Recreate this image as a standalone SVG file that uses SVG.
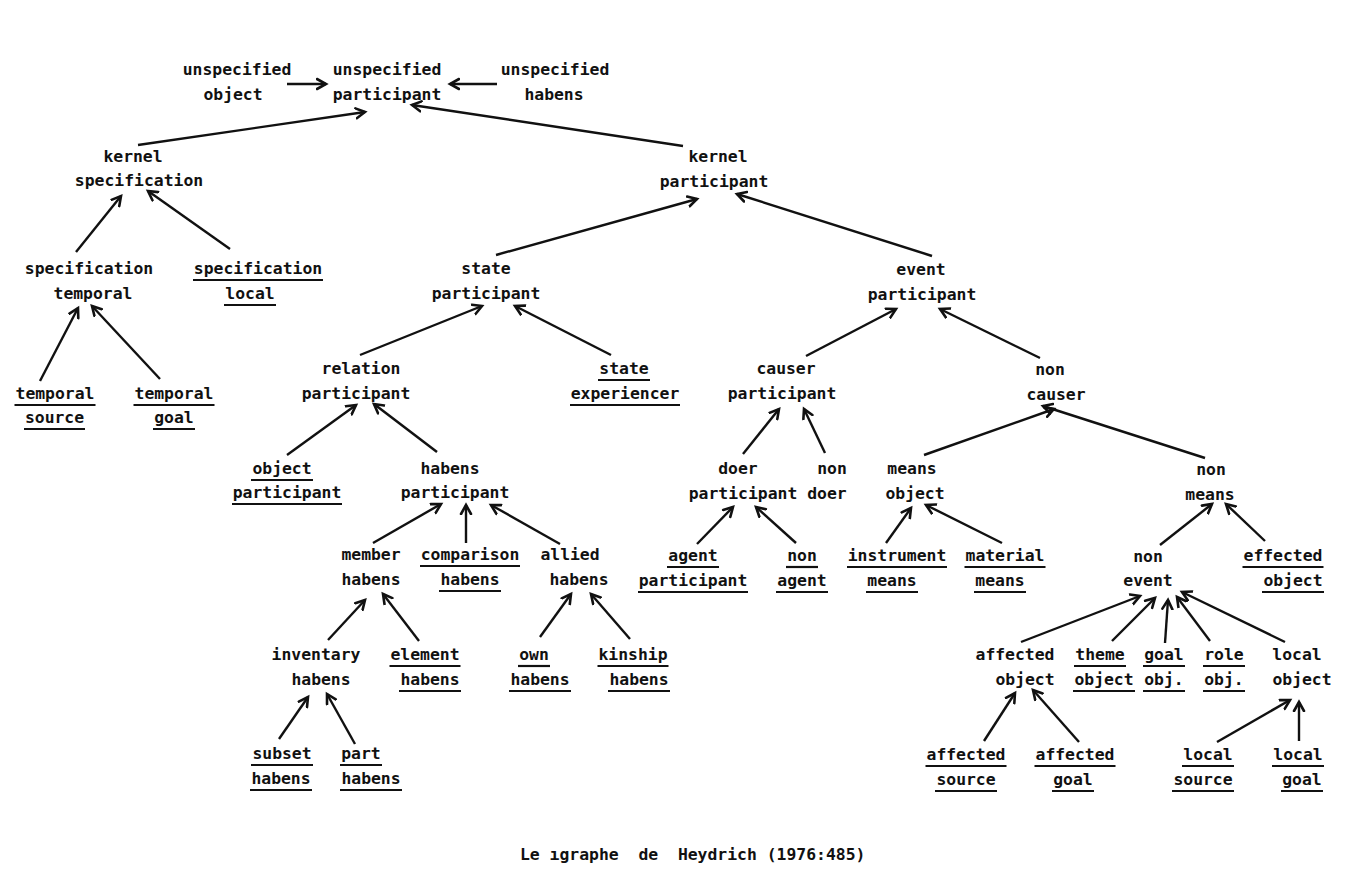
<svg xmlns="http://www.w3.org/2000/svg" width="1351" height="893" viewBox="0 0 1351 893">
<defs>
<marker id="a" markerUnits="userSpaceOnUse" markerWidth="14" markerHeight="14" refX="10" refY="6" orient="auto" viewBox="0 0 14 12">
<path d="M1,1 L10,6 L1,11" fill="none" stroke="#111" stroke-width="2.6" stroke-linecap="round" stroke-linejoin="miter"/>
</marker>
</defs>
<style>
text{font-family:"DejaVu Sans Mono","Liberation Mono",monospace;font-weight:bold;font-size:16.4px;fill:#111;text-anchor:middle}
.u{stroke:#111;stroke-width:2.2}
.e{stroke:#111;stroke-width:2.4;fill:none;marker-end:url(#a)}
</style>
<rect width="1351" height="893" fill="#fff"/>
<g id="connectors">
<line class="e" x1="287" y1="84" x2="326" y2="84"/>
<line class="e" x1="497" y1="84" x2="450" y2="84"/>
<line class="e" x1="138" y1="145" x2="365" y2="112"/>
<line class="e" x1="683" y1="146" x2="412" y2="105"/>
<line class="e" x1="76" y1="252" x2="121" y2="196"/>
<line class="e" x1="230" y1="249" x2="148" y2="191"/>
<line class="e" x1="40" y1="381" x2="78" y2="308"/>
<line class="e" x1="160" y1="379" x2="92" y2="306"/>
<line class="e" x1="496" y1="255" x2="697" y2="199"/>
<line class="e" x1="932" y1="256" x2="737" y2="194"/>
<line class="e" x1="360" y1="355" x2="482" y2="306"/>
<line class="e" x1="611" y1="355" x2="515" y2="306"/>
<line class="e" x1="806" y1="356" x2="896" y2="309"/>
<line class="e" x1="1040" y1="358" x2="940" y2="309"/>
<line class="e" x1="287" y1="455" x2="356" y2="405"/>
<line class="e" x1="437" y1="452" x2="374" y2="404"/>
<line class="e" x1="743" y1="454" x2="779" y2="409"/>
<line class="e" x1="825" y1="453" x2="804" y2="409"/>
<line class="e" x1="924" y1="455" x2="1054" y2="409"/>
<line class="e" x1="1205" y1="458" x2="1043" y2="406"/>
<line class="e" x1="373" y1="543" x2="441" y2="504"/>
<line class="e" x1="466" y1="543" x2="466" y2="505"/>
<line class="e" x1="560" y1="544" x2="491" y2="505"/>
<line class="e" x1="697" y1="544" x2="733" y2="507"/>
<line class="e" x1="796" y1="543" x2="756" y2="507"/>
<line class="e" x1="886" y1="543" x2="911" y2="508"/>
<line class="e" x1="1002" y1="543" x2="926" y2="505"/>
<line class="e" x1="1160" y1="545" x2="1212" y2="504"/>
<line class="e" x1="1265" y1="541" x2="1226" y2="504"/>
<line class="e" x1="328" y1="640" x2="365" y2="600"/>
<line class="e" x1="419" y1="641" x2="383" y2="594"/>
<line class="e" x1="540" y1="637" x2="571" y2="594"/>
<line class="e" x1="630" y1="639" x2="591" y2="594"/>
<line class="e" x1="279" y1="739" x2="308" y2="697"/>
<line class="e" x1="355" y1="744" x2="327" y2="694"/>
<line class="e" x1="1021" y1="642" x2="1140" y2="596"/>
<line class="e" x1="1112" y1="641" x2="1155" y2="598"/>
<line class="e" x1="1165" y1="643" x2="1168" y2="600"/>
<line class="e" x1="1210" y1="641" x2="1177" y2="597"/>
<line class="e" x1="1285" y1="642" x2="1182" y2="592"/>
<line class="e" x1="984" y1="741" x2="1015" y2="693"/>
<line class="e" x1="1079" y1="742" x2="1033" y2="690"/>
<line class="e" x1="1217" y1="742" x2="1290" y2="700"/>
<line class="e" x1="1299" y1="741" x2="1299" y2="702"/>
</g>
<g id="n1"><text x="237" y="75">unspecified</text><text x="233" y="100">object</text></g>
<g id="n2"><text x="387" y="75">unspecified</text><text x="387" y="100">participant</text></g>
<g id="n3"><text x="555" y="75">unspecified</text><text x="554" y="100">habens</text></g>
<g id="n4"><text x="133" y="162">kernel</text><text x="139" y="186">specification</text></g>
<g id="n5"><text x="718" y="162">kernel</text><text x="714" y="187">participant</text></g>
<g id="n6"><text x="89" y="274">specification</text><text x="93" y="299">temporal</text></g>
<g id="n7"><text x="258" y="274">specification</text><text x="250" y="299">local</text><line class="u" x1="193" y1="280" x2="323" y2="280"/><line class="u" x1="224" y1="305" x2="276" y2="305"/></g>
<g id="n8"><text x="55" y="399">temporal</text><text x="54.5" y="423">source</text><line class="u" x1="14.5" y1="405" x2="95.5" y2="405"/><line class="u" x1="24" y1="429" x2="85" y2="429"/></g>
<g id="n9"><text x="174" y="399">temporal</text><text x="174" y="423">goal</text><line class="u" x1="133.5" y1="405" x2="214.5" y2="405"/><line class="u" x1="153" y1="429" x2="195" y2="429"/></g>
<g id="n10"><text x="486" y="274">state</text><text x="486" y="299">participant</text></g>
<g id="n11"><text x="921" y="275">event</text><text x="922" y="300">participant</text></g>
<g id="n12"><text x="361" y="374">relation</text><text x="356" y="399">participant</text></g>
<g id="n13"><text x="624" y="374">state</text><text x="625" y="399">experiencer</text><line class="u" x1="598" y1="380" x2="650" y2="380"/><line class="u" x1="570" y1="405" x2="680" y2="405"/></g>
<g id="n14"><text x="786" y="374">causer</text><text x="782" y="399">participant</text></g>
<g id="n15"><text x="1050" y="375">non</text><text x="1056" y="400">causer</text></g>
<g id="n16"><text x="282" y="474">object</text><text x="287" y="498">participant</text><line class="u" x1="251" y1="480" x2="313" y2="480"/><line class="u" x1="232" y1="504" x2="342" y2="504"/></g>
<g id="n17"><text x="450" y="474">habens</text><text x="455" y="498">participant</text></g>
<g id="n18"><text x="738" y="474">doer</text><text x="743" y="499">participant</text></g>
<g id="n19"><text x="832" y="474">non</text><text x="827" y="499">doer</text></g>
<g id="n20"><text x="912" y="474">means</text><text x="915" y="499">object</text></g>
<g id="n21"><text x="1211" y="475">non</text><text x="1210" y="500">means</text></g>
<g id="n22"><text x="371" y="560">member</text><text x="371" y="585">habens</text></g>
<g id="n23"><text x="470" y="560">comparison</text><text x="470" y="585">habens</text><line class="u" x1="420" y1="566" x2="520" y2="566"/><line class="u" x1="439" y1="591" x2="501" y2="591"/></g>
<g id="n24"><text x="570" y="560">allied</text><text x="579" y="585">habens</text></g>
<g id="n25"><text x="693" y="561">agent</text><text x="693" y="586">participant</text><line class="u" x1="667" y1="567" x2="719" y2="567"/><line class="u" x1="638" y1="592" x2="748" y2="592"/></g>
<g id="n26"><text x="802" y="561">non</text><text x="802" y="586">agent</text><line class="u" x1="786" y1="567" x2="818" y2="567"/><line class="u" x1="776" y1="592" x2="828" y2="592"/></g>
<g id="n27"><text x="897" y="561">instrument</text><text x="892" y="586">means</text><line class="u" x1="847" y1="567" x2="947" y2="567"/><line class="u" x1="866" y1="592" x2="918" y2="592"/></g>
<g id="n28"><text x="1005" y="561">material</text><text x="1000" y="586">means</text><line class="u" x1="964.5" y1="567" x2="1045.5" y2="567"/><line class="u" x1="974" y1="592" x2="1026" y2="592"/></g>
<g id="n29"><text x="1148" y="562">non</text><text x="1148" y="586">event</text></g>
<g id="n30"><text x="1283" y="561">effected</text><text x="1293" y="586">object</text><line class="u" x1="1242.5" y1="567" x2="1323.5" y2="567"/><line class="u" x1="1262" y1="592" x2="1324" y2="592"/></g>
<g id="n31"><text x="316" y="660">inventary</text><text x="321" y="685">habens</text></g>
<g id="n32"><text x="425" y="660">element</text><text x="430" y="685">habens</text><line class="u" x1="389.5" y1="666" x2="460.5" y2="666"/><line class="u" x1="399" y1="691" x2="461" y2="691"/></g>
<g id="n33"><text x="534" y="660">own</text><text x="540" y="685">habens</text><line class="u" x1="518" y1="666" x2="550" y2="666"/><line class="u" x1="509" y1="691" x2="571" y2="691"/></g>
<g id="n34"><text x="633" y="660">kinship</text><text x="639" y="685">habens</text><line class="u" x1="597.5" y1="666" x2="668.5" y2="666"/><line class="u" x1="608" y1="691" x2="670" y2="691"/></g>
<g id="n35"><text x="282" y="759">subset</text><text x="281" y="784">habens</text><line class="u" x1="251" y1="765" x2="313" y2="765"/><line class="u" x1="250" y1="790" x2="312" y2="790"/></g>
<g id="n36"><text x="361" y="759">part</text><text x="371" y="784">habens</text><line class="u" x1="340" y1="765" x2="382" y2="765"/><line class="u" x1="340" y1="790" x2="402" y2="790"/></g>
<g id="n37"><text x="1015" y="660">affected</text><text x="1025" y="685">object</text></g>
<g id="n38"><text x="1100" y="660">theme</text><text x="1104" y="685">object</text><line class="u" x1="1074" y1="666" x2="1126" y2="666"/><line class="u" x1="1073" y1="691" x2="1135" y2="691"/></g>
<g id="n39"><text x="1164" y="660">goal</text><text x="1164" y="685">obj.</text><line class="u" x1="1143" y1="666" x2="1185" y2="666"/><line class="u" x1="1143" y1="691" x2="1185" y2="691"/></g>
<g id="n40"><text x="1224" y="660">role</text><text x="1224" y="685">obj.</text><line class="u" x1="1203" y1="666" x2="1245" y2="666"/><line class="u" x1="1203" y1="691" x2="1245" y2="691"/></g>
<g id="n41"><text x="1297" y="660">local</text><text x="1302" y="685">object</text></g>
<g id="n42"><text x="966" y="760">affected</text><text x="966" y="785">source</text><line class="u" x1="925.5" y1="766" x2="1006.5" y2="766"/><line class="u" x1="935" y1="791" x2="997" y2="791"/></g>
<g id="n43"><text x="1075" y="760">affected</text><text x="1073" y="785">goal</text><line class="u" x1="1034.5" y1="766" x2="1115.5" y2="766"/><line class="u" x1="1052" y1="791" x2="1094" y2="791"/></g>
<g id="n44"><text x="1208" y="760">local</text><text x="1203" y="785">source</text><line class="u" x1="1182" y1="766" x2="1234" y2="766"/><line class="u" x1="1172" y1="791" x2="1234" y2="791"/></g>
<g id="n45"><text x="1298" y="760">local</text><text x="1302" y="785">goal</text><line class="u" x1="1272" y1="766" x2="1324" y2="766"/><line class="u" x1="1281" y1="791" x2="1323" y2="791"/></g>
<g id="caption"><text x="520" y="860" style="text-anchor:start" xml:space="preserve">Le ıgraphe  de  Heydrich (1976:485)</text></g>
</svg>
